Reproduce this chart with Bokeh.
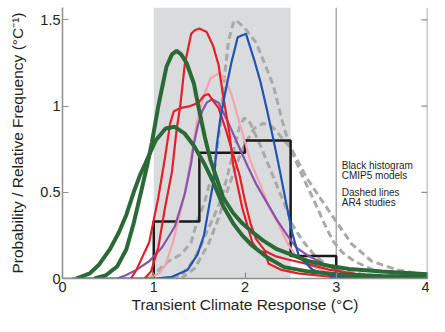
import math
from bokeh.plotting import figure
from bokeh.models import Range1d, FixedTicker, BoxAnnotation, Span, Label
from bokeh.embed import file_html
from bokeh.resources import INLINE

# ---------------- data ----------------
x_ticks = [0, 1, 2, 3, 4]
x_tick_labels = ["0", "1", "2", "3", "4"]
y_ticks = [0, 0.5, 1, 1.5]
y_tick_labels = ["0", "0.5", "1", "1.5"]
right_ticks = [0.5, 1, 1.5]

shade_left, shade_right = 1.0, 2.5
marker_x = 3.0

hist_edges = [1.0, 1.5, 2.0, 2.5, 3.0]
hist_heights = [0.33, 0.73, 0.80, 0.13]

green_a_x = [0.35, 0.48, 0.6, 0.7, 0.78, 0.86, 0.93, 0.98, 1.05, 1.14, 1.2, 1.25, 1.3, 1.36, 1.44, 1.5, 1.56,
             1.62, 1.69, 1.76, 1.87, 1.97, 2.08, 2.2, 2.35, 2.5, 2.7, 2.9, 3.14, 3.5, 4.0]
green_a_y = [0.0, 0.02, 0.07, 0.17, 0.32, 0.5, 0.66, 0.79, 1.0, 1.23, 1.3, 1.32, 1.3, 1.25, 1.13, 0.97, 0.82,
             0.69, 0.58, 0.47, 0.38, 0.32, 0.27, 0.22, 0.17, 0.14, 0.1, 0.075, 0.055, 0.04, 0.025]

green_b_x = [0.15, 0.3, 0.4, 0.52, 0.62, 0.7, 0.78, 0.85, 0.91, 1.02, 1.13, 1.23, 1.34, 1.44, 1.55, 1.66,
             1.76, 1.87, 1.97, 2.08, 2.25, 2.43, 2.7, 3.0, 3.5, 4.0]
green_b_y = [0.0, 0.03, 0.08, 0.17, 0.27, 0.37, 0.5, 0.6, 0.67, 0.8, 0.87, 0.88, 0.84, 0.77, 0.67, 0.55,
             0.42, 0.32, 0.25, 0.19, 0.12, 0.066, 0.04, 0.025, 0.015, 0.01]

red_a_x = [0.9, 0.97, 1.05, 1.12, 1.2, 1.25, 1.29, 1.34, 1.41, 1.45, 1.5, 1.58, 1.65, 1.71, 1.76, 1.83, 1.87,
           1.97, 2.08, 2.15, 2.22, 2.26, 2.4, 2.58, 2.93, 3.5, 4.0]
red_a_y = [0.0, 0.04, 0.18, 0.4, 0.62, 0.86, 1.0, 1.24, 1.42, 1.44, 1.45, 1.43, 1.35, 1.24, 1.06, 0.84, 0.66,
           0.41, 0.21, 0.16, 0.15, 0.085, 0.05, 0.03, 0.01, 0.0, 0.0]

red_b_x = [0.75, 0.81, 0.95, 1.05, 1.12, 1.18, 1.22, 1.3, 1.4, 1.49, 1.55, 1.6, 1.65, 1.71, 1.78, 1.87, 1.94,
           2.0, 2.06, 2.12, 2.22, 2.33, 2.47, 2.68, 2.93, 3.3, 4.0]
red_b_y = [0.0, 0.05, 0.21, 0.47, 0.69, 0.9, 0.97, 0.99, 1.0, 1.02, 1.06, 1.07, 1.03, 0.99, 0.88, 0.72, 0.6,
           0.45, 0.32, 0.23, 0.16, 0.13, 0.11, 0.085, 0.05, 0.02, 0.0]

pink_x = [0.0, 0.9, 0.98, 1.06, 1.13, 1.21, 1.3, 1.37, 1.43, 1.46, 1.5, 1.55, 1.62, 1.71, 1.78, 1.85, 1.92,
          1.99, 2.06, 2.17, 2.27, 2.38, 2.47, 2.56, 2.7, 2.88, 3.05, 3.4, 4.0]
pink_y = [0.0, 0.0, 0.01, 0.03, 0.08, 0.21, 0.40, 0.58, 0.77, 0.87, 0.97, 1.06, 1.16, 1.19, 1.16, 1.07, 0.94,
          0.81, 0.68, 0.54, 0.41, 0.30, 0.20, 0.13, 0.08, 0.04, 0.02, 0.005, 0.0]

purple_x = [0.6, 0.7, 0.81, 0.95, 1.09, 1.23, 1.34, 1.41, 1.44, 1.48, 1.53, 1.58, 1.64, 1.71, 1.82, 1.92,
            2.03, 2.13, 2.24, 2.35, 2.45, 2.56, 2.7, 2.88, 3.02, 3.2, 3.6, 4.0]
purple_y = [0.0, 0.02, 0.05, 0.10, 0.18, 0.30, 0.49, 0.67, 0.78, 0.88, 0.97, 1.02, 1.04, 1.02, 0.90, 0.78,
            0.65, 0.54, 0.44, 0.34, 0.26, 0.18, 0.13, 0.08, 0.045, 0.01, 0.0, 0.0]

blue_x = [0.1, 1.02, 1.2, 1.37, 1.48, 1.55, 1.6, 1.66, 1.69, 1.73, 1.78, 1.85, 1.92, 2.01, 2.1, 2.17, 2.24,
          2.31, 2.38, 2.45, 2.52, 2.59, 2.74, 2.98, 3.55, 4.0]
blue_y = [0.0, 0.0, 0.01, 0.05, 0.14, 0.25, 0.40, 0.58, 0.77, 0.93, 1.07, 1.25, 1.40, 1.42, 1.27, 1.14, 0.98,
          0.81, 0.63, 0.44, 0.26, 0.13, 0.05, 0.01, 0.0, 0.0]

ar4_a_x = [0.95, 1.16, 1.3, 1.41, 1.48, 1.55, 1.6, 1.66, 1.69, 1.73, 1.77, 1.82, 1.87, 1.9, 2.0, 2.12, 2.22,
           2.31, 2.4, 2.47, 2.54, 2.65, 2.75, 2.86, 2.96, 3.07, 3.2, 3.4, 3.7, 4.0]
ar4_a_y = [0.0, 0.10, 0.14, 0.21, 0.34, 0.43, 0.53, 0.62, 0.73, 0.9, 1.15, 1.38, 1.48, 1.5, 1.45, 1.37, 1.24,
           1.12, 0.93, 0.80, 0.70, 0.57, 0.46, 0.33, 0.22, 0.15, 0.10, 0.05, 0.02, 0.01]

ar4_b_x = [1.2, 1.3, 1.41, 1.51, 1.58, 1.66, 1.73, 1.80, 1.87, 1.94, 1.99, 2.04, 2.1, 2.17, 2.24, 2.31, 2.38,
           2.45, 2.52, 2.63, 2.77, 2.9, 3.1, 3.5, 4.0]
ar4_b_y = [0.0, 0.02, 0.085, 0.18, 0.27, 0.36, 0.45, 0.58, 0.73, 0.88, 0.93, 0.92, 0.85, 0.77, 0.68, 0.59, 0.50,
           0.41, 0.31, 0.22, 0.13, 0.08, 0.04, 0.01, 0.0]

ar4_c_x = [1.3, 1.45, 1.6, 1.71, 1.8, 1.92, 2.0, 2.1, 2.2, 2.3, 2.4, 2.51, 2.6, 2.68, 2.82, 3.0, 3.17, 3.39,
           3.67, 4.0]
ar4_c_y = [0.0, 0.06, 0.2, 0.35, 0.5, 0.68, 0.78, 0.87, 0.9, 0.88, 0.82, 0.75, 0.66, 0.58, 0.47, 0.33, 0.2,
           0.10, 0.05, 0.02]

note_lines = ["Black histogram", "CMIP5 models", "Dashed lines", "AR4 studies"]
note_y = [0.656, 0.596, 0.496, 0.441]
note_x = 3.06

# ---------------- figure ----------------
FONT = "Liberation Sans"
AX_COL = "#8f8f8f"
TXT = "#231f20"

p = figure(width=429, height=316,
           x_range=Range1d(0, 4), y_range=Range1d(0, 1.572),
           output_backend="svg", toolbar_location=None,
           min_border_left=62, min_border_right=2, min_border_top=7, min_border_bottom=38,
           background_fill_color="white", border_fill_color="white")
p.outline_line_color = None
p.xgrid.visible = False
p.ygrid.visible = False

p.add_layout(BoxAnnotation(left=shade_left, right=shade_right, fill_color="#dadbdd", fill_alpha=1.0,
                           line_color=None, level="underlay"))
p.add_layout(Span(location=marker_x, dimension="height", line_color="#acacac", line_width=1.5,
                  level="underlay"))

# histogram outline built from edges / heights
hx, hy = [hist_edges[0]], [0.0]
for i, h in enumerate(hist_heights):
    hx += [hist_edges[i], hist_edges[i + 1]]
    hy += [h, h]
hx.append(hist_edges[-1])
hy.append(0.0)

DASH = "#a9a9a9"
for xs, ys in [(ar4_c_x, ar4_c_y), (ar4_b_x, ar4_b_y), (ar4_a_x, ar4_a_y)]:
    p.line(xs, ys, line_color=DASH, line_width=3, line_dash="7 4")

p.line(hx, hy, line_color="#1a1a1a", line_width=2.5)

p.line(pink_x, pink_y, line_color="#f4a3b3", line_width=2.2)
p.line(purple_x, purple_y, line_color="#8655aa", line_width=2.2)
p.line(red_b_x, red_b_y, line_color="#e3202a", line_width=2.2)
p.line(red_a_x, red_a_y, line_color="#e3202a", line_width=2.2)
p.line(blue_x, blue_y, line_color="#2153b3", line_width=2.2)
p.line(green_b_x, green_b_y, line_color="#2a6a36", line_width=4)
p.line(green_a_x, green_a_y, line_color="#2a6a36", line_width=4)

for txt, yy in zip(note_lines, note_y):
    p.add_layout(Label(x=note_x, y=yy, text=txt, text_font=FONT, text_font_size="10px",
                       text_color=TXT, text_baseline="middle", text_align="left"))

# right-hand frame line with inward ticks (no labels)
p.add_layout(Span(location=x_ticks[-1], dimension="height", line_color=AX_COL, line_width=1.5))
p.ray(x=[x_ticks[-1]] * len(right_ticks), y=right_ticks, length=6, length_units="screen",
      angle=math.pi, line_color=AX_COL, line_width=1.2)

# axes
xa = p.xaxis[0]
xa.ticker = FixedTicker(ticks=x_ticks)
xa.major_label_overrides = {t: s for t, s in zip(x_ticks, x_tick_labels)}
xa.axis_label = "Transient Climate Response (°C)"
xa.major_label_standoff = 3
xa.axis_label_standoff = 1

ya = p.yaxis[0]
ya.ticker = FixedTicker(ticks=y_ticks)
ya.major_label_overrides = {t: s for t, s in zip(y_ticks, y_tick_labels)}
ya.axis_label = "Probability / Relative Frequency (°C⁻¹)"
ya.major_label_standoff = 2
ya.axis_label_standoff = 11

for ax in [xa, ya]:
    ax.axis_line_color = AX_COL
    ax.axis_line_width = 1.5
    ax.major_tick_line_color = AX_COL
    ax.major_tick_line_width = 1.2
    ax.major_tick_in = 6
    ax.major_tick_out = 0
    ax.minor_tick_line_color = None
    ax.major_label_text_font = FONT
    ax.major_label_text_font_size = "14.5px"
    ax.major_label_text_color = TXT
    ax.axis_label_text_font = FONT
    ax.axis_label_text_font_style = "normal"
    ax.axis_label_text_font_size = "15.5px"
    ax.axis_label_text_color = TXT

open("out.html", "w").write(file_html(p, INLINE))
